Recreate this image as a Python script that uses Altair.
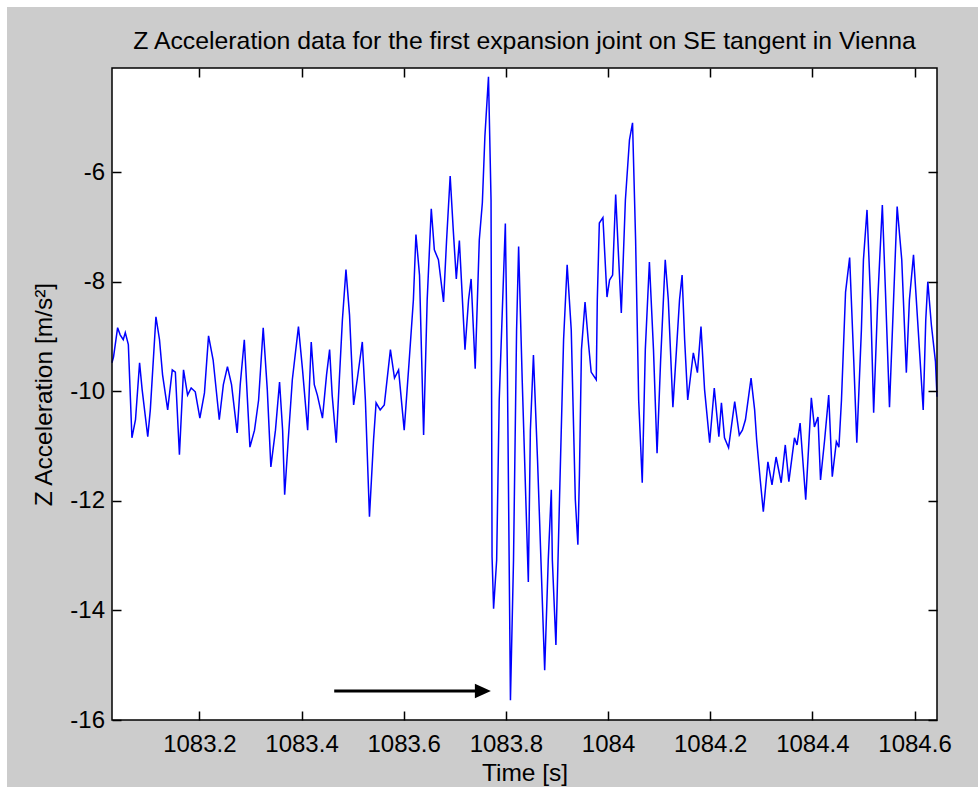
import altair as alt
import pandas as pd

# ---- data ----
time_s = [
    1083.029, 1083.032, 1083.040, 1083.045, 1083.051, 1083.055, 1083.061, 1083.068, 1083.075, 1083.083,
    1083.088, 1083.099, 1083.104, 1083.115, 1083.122, 1083.128, 1083.138, 1083.147, 1083.153, 1083.161,
    1083.169, 1083.177, 1083.184, 1083.192, 1083.201, 1083.210, 1083.218, 1083.227, 1083.239, 1083.247,
    1083.255, 1083.263, 1083.274, 1083.280, 1083.288, 1083.299, 1083.308, 1083.316, 1083.325, 1083.333,
    1083.340, 1083.349, 1083.357, 1083.363, 1083.367, 1083.374, 1083.382, 1083.394, 1083.402, 1083.412,
    1083.419, 1083.425, 1083.431, 1083.441, 1083.449, 1083.455, 1083.460, 1083.468, 1083.474, 1083.480,
    1083.487, 1083.494, 1083.502, 1083.509, 1083.519, 1083.525, 1083.533, 1083.541, 1083.546, 1083.554,
    1083.562, 1083.574, 1083.582, 1083.590, 1083.601, 1083.611, 1083.619, 1083.624, 1083.631, 1083.639,
    1083.646, 1083.654, 1083.660, 1083.668, 1083.678, 1083.684, 1083.691, 1083.697, 1083.703, 1083.709,
    1083.720, 1083.727, 1083.732, 1083.740, 1083.748, 1083.754, 1083.759, 1083.766, 1083.771, 1083.773,
    1083.776, 1083.782, 1083.787, 1083.799, 1083.803, 1083.809, 1083.815, 1083.821, 1083.825, 1083.832,
    1083.844, 1083.848, 1083.854, 1083.862, 1083.876, 1083.883, 1083.889, 1083.891, 1083.898, 1083.905,
    1083.913, 1083.920, 1083.928, 1083.936, 1083.941, 1083.944, 1083.948, 1083.955, 1083.962, 1083.967,
    1083.977, 1083.979, 1083.983, 1083.990, 1083.998, 1084.003, 1084.009, 1084.015, 1084.020, 1084.026,
    1084.034, 1084.042, 1084.048, 1084.054, 1084.060, 1084.067, 1084.073, 1084.081, 1084.089, 1084.096,
    1084.103, 1084.112, 1084.118, 1084.127, 1084.134, 1084.140, 1084.145, 1084.150, 1084.156, 1084.167,
    1084.175, 1084.182, 1084.189, 1084.199, 1084.208, 1084.217, 1084.222, 1084.228, 1084.236, 1084.248,
    1084.257, 1084.263, 1084.269, 1084.280, 1084.287, 1084.291, 1084.298, 1084.304, 1084.313, 1084.321,
    1084.329, 1084.339, 1084.347, 1084.354, 1084.365, 1084.370, 1084.376, 1084.387, 1084.398, 1084.404,
    1084.411, 1084.416, 1084.424, 1084.432, 1084.439, 1084.447, 1084.452, 1084.457, 1084.465, 1084.473,
    1084.481, 1084.487, 1084.496, 1084.500, 1084.507, 1084.514, 1084.520, 1084.528, 1084.537, 1084.543,
    1084.551, 1084.559, 1084.566, 1084.575, 1084.584, 1084.590, 1084.598, 1084.606, 1084.617, 1084.622,
    1084.626, 1084.633, 1084.641, 1084.644,
]
z_accel = [
    -9.48, -9.37, -8.84, -8.97, -9.06, -8.93, -9.15, -10.85, -10.52, -9.48,
    -9.97, -10.83, -10.34, -8.64, -9.06, -9.70, -10.34, -9.61, -9.65, -11.16,
    -9.61, -10.07, -9.94, -10.01, -10.49, -10.03, -8.99, -9.43, -10.52, -9.88,
    -9.55, -9.88, -10.76, -9.88, -9.06, -11.02, -10.71, -10.16, -8.84, -9.97,
    -11.38, -10.71, -9.83, -10.71, -11.89, -10.89, -9.79, -8.82, -9.61, -10.71,
    -9.10, -9.88, -10.07, -10.49, -9.70, -9.24, -10.07, -10.94, -9.79, -8.70,
    -7.78, -8.61, -10.25, -9.79, -9.10, -10.16, -12.29, -10.89, -10.21, -10.34,
    -10.25, -9.24, -9.76, -9.61, -10.71, -9.41, -8.33, -7.14, -7.88, -10.80,
    -8.33, -6.67, -7.42, -7.60, -8.37, -7.24, -6.07, -7.05, -7.95, -7.25,
    -9.24, -8.33, -7.95, -9.59, -7.24, -6.56, -5.34, -4.26, -6.51, -13.02,
    -13.97, -13.08, -10.16, -6.94, -9.61, -15.64, -13.08, -8.88, -7.36, -9.79,
    -13.48, -10.71, -9.34, -11.25, -15.09, -13.08, -11.80, -13.08, -14.63, -11.98,
    -9.06, -7.69, -8.88, -11.98, -12.80, -11.53, -9.24, -8.37, -9.15, -9.65,
    -9.79, -8.33, -6.93, -6.83, -8.28, -7.97, -7.88, -6.41, -7.42, -8.57,
    -6.51, -5.41, -5.10, -7.24, -10.16, -11.67, -9.24, -7.64, -9.24, -11.13,
    -9.43, -7.60, -8.33, -10.29, -9.24, -8.33, -7.88, -9.06, -10.16, -9.30,
    -9.66, -8.82, -9.97, -10.94, -9.94, -10.83, -10.21, -10.85, -11.03, -10.19,
    -10.80, -10.71, -10.52, -9.76, -10.34, -10.89, -11.62, -12.20, -11.29, -11.71,
    -11.20, -11.67, -10.98, -11.65, -10.85, -10.98, -10.58, -11.98, -10.12, -10.65,
    -10.47, -11.62, -10.89, -10.07, -11.56, -10.92, -11.02, -10.16, -8.19, -7.56,
    -9.43, -10.94, -8.88, -7.60, -6.69, -8.33, -10.39, -8.33, -6.60, -8.15,
    -10.29, -8.33, -6.63, -7.60, -9.66, -8.33, -7.51, -8.70, -10.34, -8.70,
    -8.00, -8.79, -9.46, -10.10,
]

x_ticks = [1083.2, 1083.4, 1083.6, 1083.8, 1084, 1084.2, 1084.4, 1084.6]
y_ticks = [-16, -14, -12, -10, -8, -6]
x_domain = [1083.029, 1084.644]
y_domain = [-16, -4.1]

arrow_t_start = [1083.464]
arrow_t_end = [1083.755]
arrow_accel = [-15.47]

chart_title = "Z Acceleration data for the first expansion joint on SE tangent in Vienna"
x_title = "Time [s]"
y_title = "Z Acceleration [m/s\u00b2]"

# ---- styling ----
W, H = 825, 652
PAD = {"left": 112, "top": 68, "right": 41, "bottom": 67}
FONT = "Liberation Sans, Arial, sans-serif"
LABEL_FS = 24
AXTITLE_FS = 24.5
TITLE_FS = 24.8
FIG_GRAY = "#cccccc"

df = pd.DataFrame({"t": time_s, "a": z_accel})
arrow_df = pd.DataFrame({"t0": arrow_t_start, "t1": arrow_t_end, "a": arrow_accel})
one_row = alt.Data(values=[{"k": 0}])

xscale = alt.Scale(domain=x_domain, nice=False, zero=False)
yscale = alt.Scale(domain=y_domain, nice=False, zero=False)


def make_axis(orient, values, show_labels, title_text=None, label_pad=0, title_pad=0):
    kw = dict(
        orient=orient, values=values, domain=False, grid=False,
        ticks=True, tickSize=9, offset=-9, tickColor="black", tickWidth=1.5,
        labels=show_labels, zindex=1,
    )
    if show_labels:
        kw.update(
            labelExpr="'' + datum.value", labelFont=FONT, labelFontSize=LABEL_FS,
            labelColor="black", labelPadding=label_pad,
        )
    if title_text is not None:
        kw.update(
            title=title_text, titleFont=FONT, titleFontSize=AXTITLE_FS,
            titleFontWeight="normal", titleColor="black", titlePadding=title_pad,
        )
    else:
        kw.update(title=None)
    return alt.Axis(**kw)


fig_bg = alt.Chart(one_row).mark_rect(color=FIG_GRAY).encode(
    x=alt.value(-105), x2=alt.value(W + PAD["right"]),
    y=alt.value(-61), y2=alt.value(H + PAD["bottom"]),
)
plot_bg = alt.Chart(one_row).mark_rect(color="white").encode(
    x=alt.value(0), x2=alt.value(W), y=alt.value(0), y2=alt.value(H),
)

title_text = alt.Chart(one_row).mark_text(
    text=chart_title, font=FONT, fontSize=TITLE_FS, color="black",
    align="center", baseline="alphabetic",
).encode(x=alt.value(W / 2), y=alt.value(-19))

line = alt.Chart(df).mark_line(
    color="#0000ff", strokeWidth=1.5, interpolate="linear",
).encode(
    x=alt.X("t:Q", scale=xscale,
            axis=make_axis("bottom", x_ticks, True, x_title, label_pad=12, title_pad=5)),
    y=alt.Y("a:Q", scale=yscale,
            axis=make_axis("left", y_ticks, True, y_title, label_pad=7.5, title_pad=13.5)),
)

ghost = alt.Chart(df).mark_line(opacity=0).encode(
    x=alt.X("t:Q", scale=xscale, axis=make_axis("top", x_ticks, False)),
    y=alt.Y("a:Q", scale=yscale, axis=make_axis("right", y_ticks, False)),
)

arrow_line = alt.Chart(arrow_df).mark_rule(color="black", strokeWidth=3).encode(
    x=alt.X("t0:Q", scale=xscale, axis=None),
    x2="t1:Q",
    y=alt.Y("a:Q", scale=yscale, axis=None),
)
arrow_head = alt.Chart(arrow_df).mark_point(
    shape="M-1,-0.9L1,0L-1,0.9Z", filled=True, size=256, color="black", opacity=1,
).encode(
    x=alt.X("t1:Q", scale=xscale, axis=None),
    y=alt.Y("a:Q", scale=yscale, axis=None),
)

frame = alt.Chart(one_row).mark_rect(
    fillOpacity=0, stroke="black", strokeWidth=1.5,
).encode(
    x=alt.value(0), x2=alt.value(W), y=alt.value(0), y2=alt.value(H),
)

chart = alt.layer(
    fig_bg, plot_bg, title_text, line, arrow_line, arrow_head, frame, ghost,
).resolve_axis(
    x="independent", y="independent",
).properties(
    width=W, height=H,
    background="white",
    padding=PAD,
    autosize=alt.AutoSizeParams(type="none"),
).configure_view(stroke="transparent")

chart.save("out.html", embed_options={"renderer": "svg", "actions": False})
